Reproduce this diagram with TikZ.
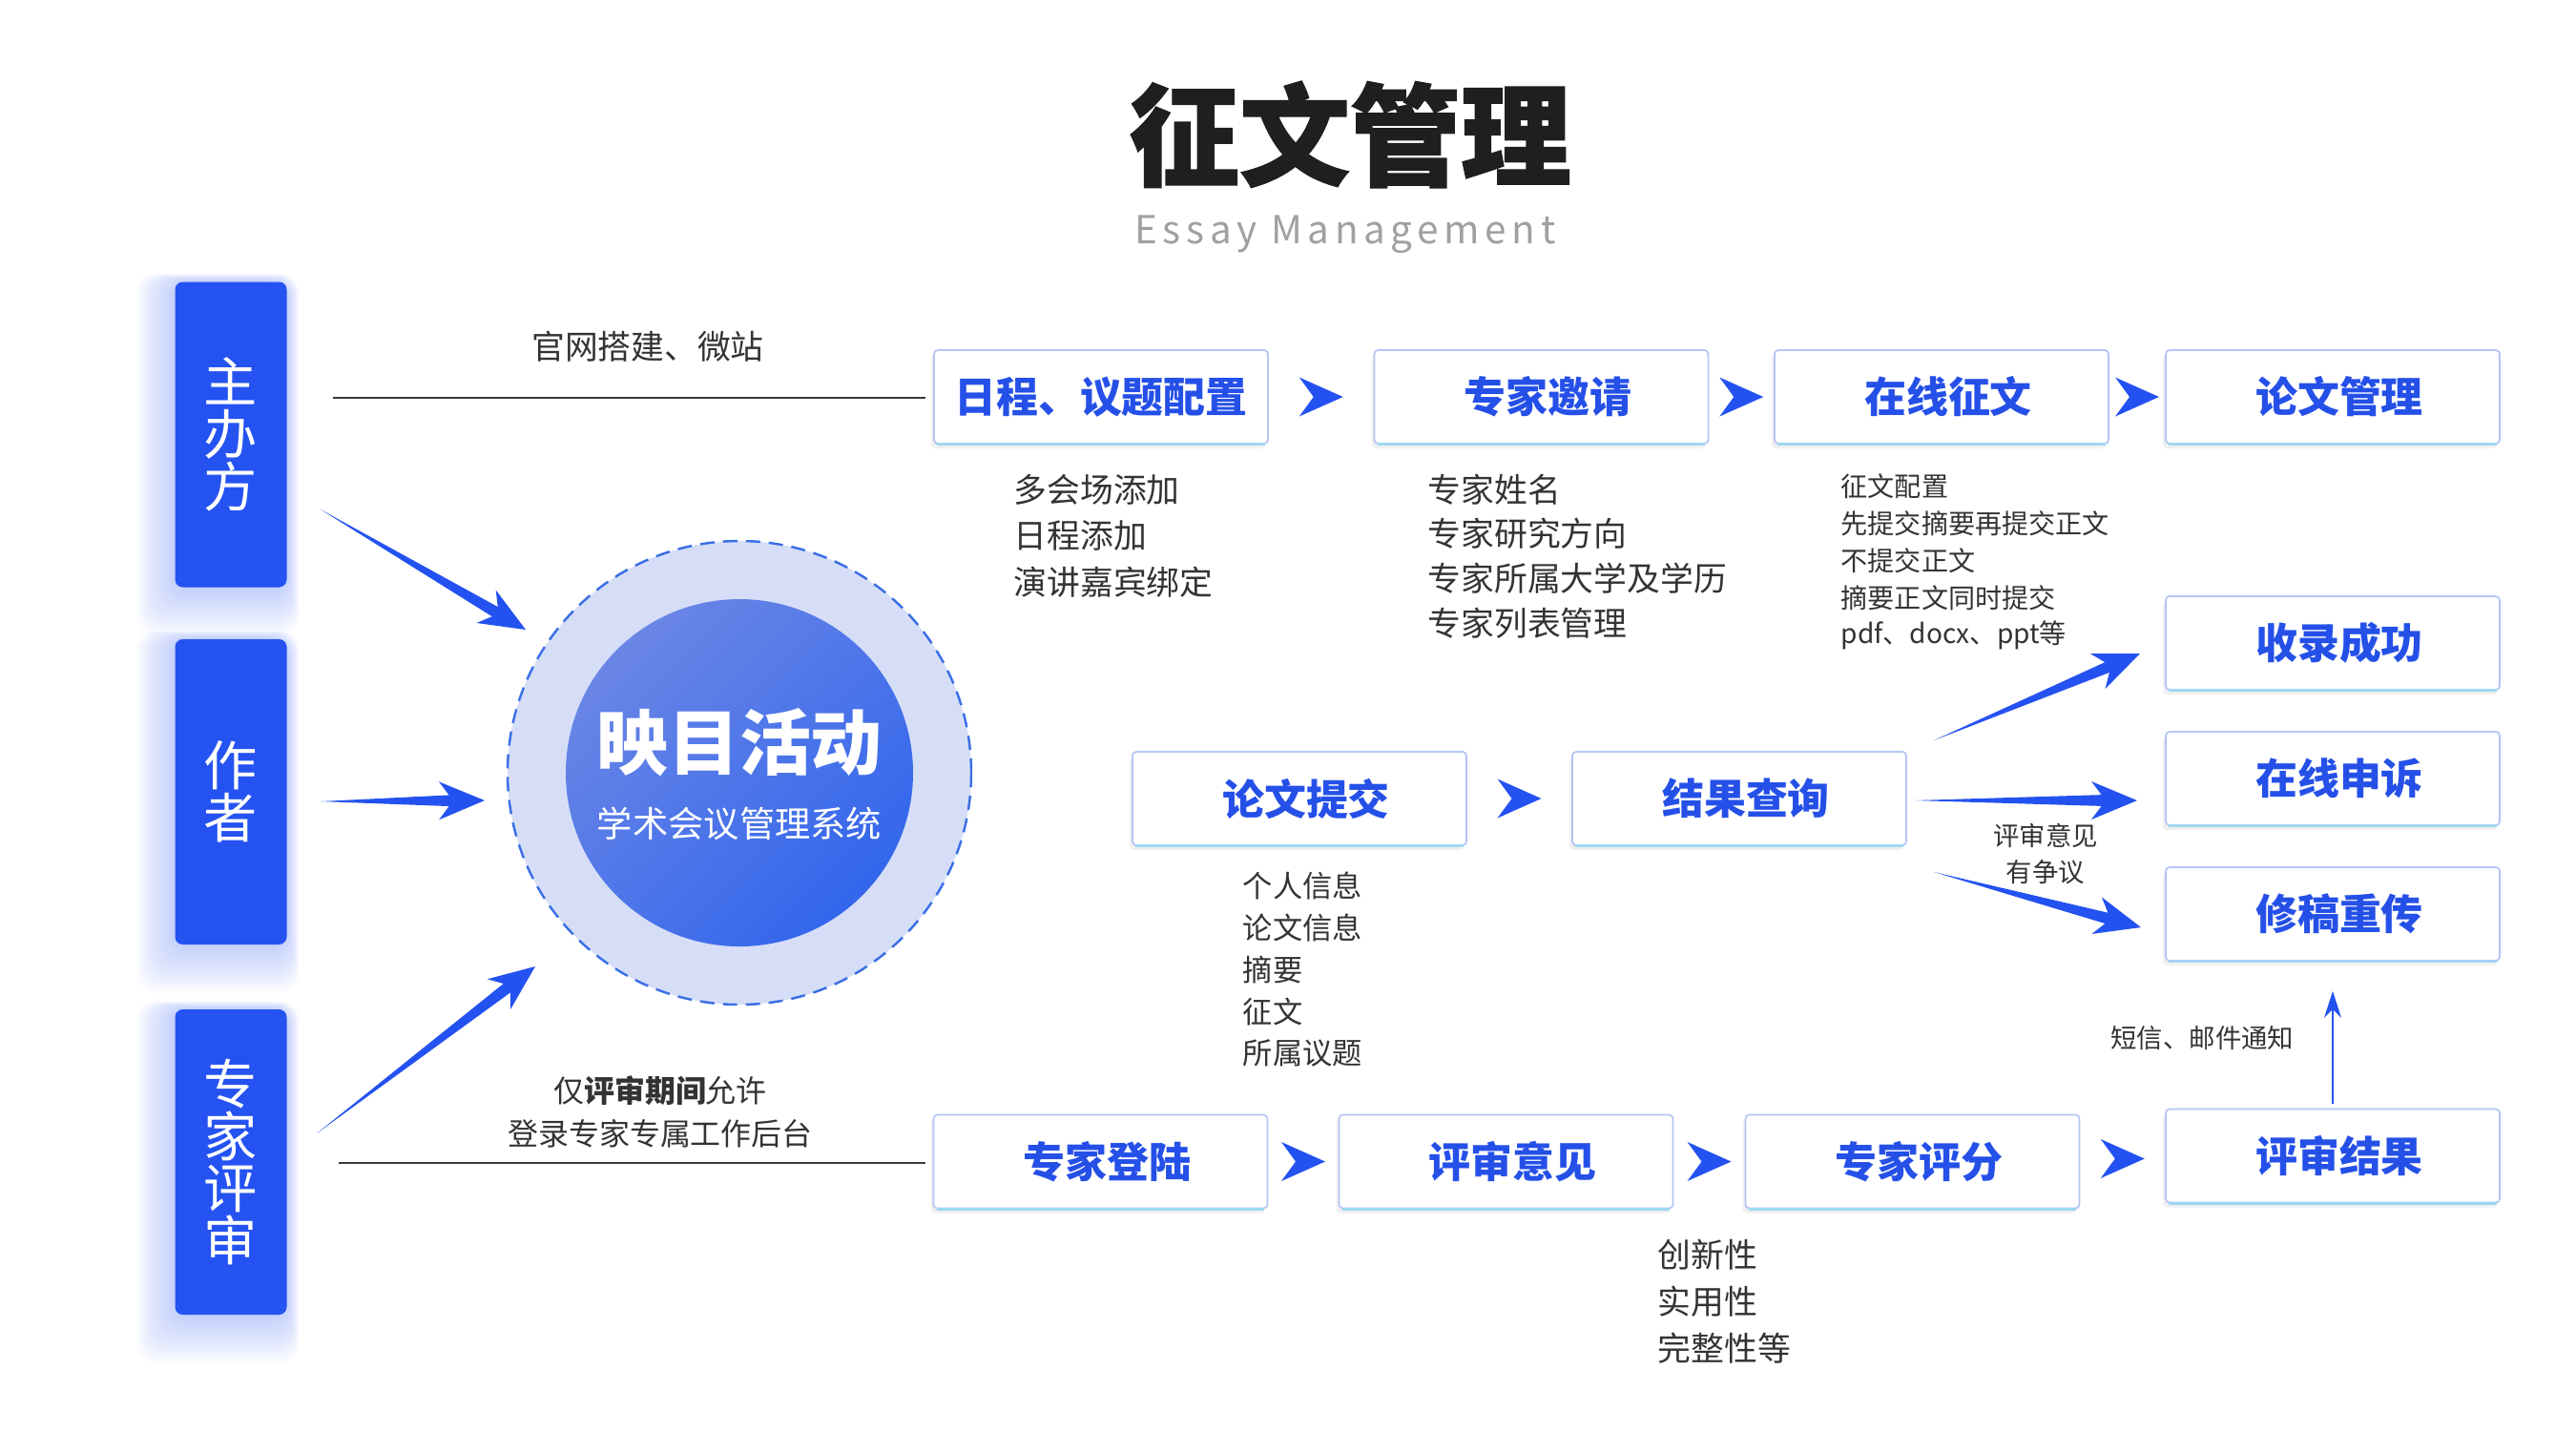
\documentclass[tikz,border=0pt]{standalone}
\usepackage{fontspec}
\setmainfont{Noto Sans CJK SC}
\newfontfamily\heavyfont{Noto Sans CJK SC}[FakeBold=1.2]
\usetikzlibrary{arrows.meta,calc,shadows}

\pgfdeclarelayer{background}
\pgfsetlayers{background,main}

\definecolor{barblue}{HTML}{2553F2}
\definecolor{arrowblue}{HTML}{2452F0}
\definecolor{markblue}{HTML}{2452F0}
\definecolor{cardtext}{HTML}{2550E8}
\definecolor{cardedge}{HTML}{B4C5F5}
\definecolor{cyanedge}{HTML}{9ED8F2}
\definecolor{ringfill}{HTML}{D6DEF7}
\definecolor{ringdash}{HTML}{3B6FE6}
\definecolor{discA}{HTML}{6A86E6}
\definecolor{discB}{HTML}{3366EC}
\definecolor{titleink}{HTML}{1F1F1F}
\definecolor{subink}{HTML}{A0A0A0}
\definecolor{itemink}{HTML}{333333}
\definecolor{guideink}{HTML}{3A3A3A}

% chevron between two step cards
\newcommand\flowmark[2]{%
  \fill[markblue] ($(#1.east)!0.5!(#2.west)$) ++(0.23,0) -- ++(-0.46,0.205)
    -- ++(0.15,-0.205) -- ++(-0.15,-0.205) -- cycle;}

% tapered arrow: thin foot, wide notched head
\newcommand\taperarrow[2]{%
  \coordinate (tipback) at ($(#2)!0.48cm!(#1)$);
  \coordinate (tipnotch) at ($(#2)!0.33cm!(#1)$);
  \fill[arrowblue] (#1) -- ($(tipnotch)!0.06cm!90:(#2)$) -- ($(tipnotch)!0.06cm!-90:(#2)$) -- cycle;
  \fill[arrowblue] (#2) -- ($(tipback)!0.2cm!90:(#2)$) -- (tipnotch)
    -- ($(tipback)!0.2cm!-90:(#2)$) -- cycle;}

\begin{document}
\begin{tikzpicture}[
  rolebar/.style={rounded corners=0.08cm, fill=barblue, text=white, minimum width=1.17cm,
    minimum height=3.2cm, align=center, font=\fontsize{16}{15.6}\selectfont},
  stepcard/.style={rounded corners=0.04cm, draw=cardedge, line width=0.5pt, fill=white,
    minimum width=3.5cm, minimum height=0.98cm, text=cardtext,
    font=\bfseries\fontsize{12.5}{15}\selectfont, execute at begin node=\hspace*{0.14cm},
    drop shadow={shadow xshift=-0.03cm, shadow yshift=-0.05cm, fill=black, opacity=0.06}},
  itemtext/.style={inner sep=0pt, text=itemink, font=\fontsize{9.9}{12}\selectfont},
  guide/.style={draw=guideink, line width=0.6pt},
  notetext/.style={inner sep=0pt, text=itemink, font=\fontsize{7.8}{10.8}\selectfont, align=center},
]
  \useasboundingbox (0,0) rectangle (27,-15);

  % ---------- title ----------
  \node[text=titleink, font=\heavyfont\bfseries\fontsize{33}{40}\selectfont] (title) at (14.15,-1.41) {征文管理};
  \node[text=subink, font=\fontsize{11.5}{14}\selectfont\addfontfeature{LetterSpace=14}] (subtitle) at (14.10,-2.46) {Essay Management};

  % ---------- roles ----------
  \node[rolebar] (host) at (2.42,-4.555) {主\\办\\方};
  \node[rolebar] (author) at (2.42,-8.30) {作\\者};
  \node[rolebar] (expert) at (2.42,-12.18) {专\\家\\评\\审};

  \begin{pgfonlayer}{background}
    \foreach \role in {host,author,expert}
      \foreach \g in {1,...,20}
        \fill[barblue, opacity=0.014, rounded corners=0.2cm]
          ([shift={(-\g*0.02cm,-\g*0.025cm)}]\role.south west) rectangle
          ([shift={(\g*0.006cm,\g*0.004cm)}]\role.north east);
  \end{pgfonlayer}

  % ---------- hub ----------
  \node[circle, minimum size=4.86cm, fill=ringfill, draw=ringdash, line width=0.7pt,
    dash pattern=on 0.15cm off 0.09cm] (hub) at (7.75,-8.10) {};
  \node[circle, minimum size=3.64cm, top color=discA, bottom color=discB, shading angle=45] (disc) at (hub) {};
  \node[text=white, font=\bfseries\fontsize{21.3}{24}\selectfont] (brand) at (7.75,-7.78) {映目活动};
  \node[text=white, font=\fontsize{10.6}{12}\selectfont] (brandsub) at (7.75,-8.63) {学术会议管理系统};

  \coordinate (hostfoot) at (3.36,-5.34);
  \coordinate (hosttip) at (5.51,-6.60);
  \coordinate (authorfoot) at (3.36,-8.40);
  \coordinate (authortip) at (5.08,-8.39);
  \coordinate (expertfoot) at (3.32,-11.88);
  \coordinate (experttip) at (5.61,-10.13);
  \taperarrow{hostfoot}{hosttip}
  \taperarrow{authorfoot}{authortip}
  \taperarrow{expertfoot}{experttip}

  % ---------- step cards ----------
  \node[stepcard, execute at begin node=\hspace*{-0.14cm}] (sched) at (11.54,-4.16) {日程、议题配置};
  \node[stepcard] (invite) at (16.155,-4.16) {专家邀请};
  \node[stepcard] (callfor) at (20.35,-4.16) {在线征文};
  \node[stepcard] (papers) at (24.45,-4.16) {论文管理};
  \node[stepcard] (submit) at (13.62,-8.37) {论文提交};
  \node[stepcard] (query) at (18.23,-8.37) {结果查询};
  \node[stepcard] (accept) at (24.45,-6.74) {收录成功};
  \node[stepcard] (appeal) at (24.45,-8.16) {在线申诉};
  \node[stepcard] (revise) at (24.45,-9.58) {修稿重传};
  \node[stepcard] (login) at (11.535,-12.175) {专家登陆};
  \node[stepcard] (opinion) at (15.785,-12.175) {评审意见};
  \node[stepcard] (score) at (20.045,-12.175) {专家评分};
  \node[stepcard] (result) at (24.45,-12.115) {评审结果};

  \foreach \card in {sched,invite,callfor,papers,submit,query,accept,appeal,revise,login,opinion,score,result}
    \draw[cyanedge, line width=0.8pt] ([xshift=0.04cm]\card.south west) -- ([xshift=-0.04cm]\card.south east);

  \flowmark{sched}{invite}
  \flowmark{invite}{callfor}
  \flowmark{callfor}{papers}
  \flowmark{submit}{query}
  \flowmark{login}{opinion}
  \flowmark{opinion}{score}
  \flowmark{score}{result}

  % ---------- guide lines ----------
  \coordinate (hostline) at (3.49,-4.17);
  \draw[guide, shorten >=0.08cm] (hostline) -- (hostline -| sched.west);
  \node[itemtext] (sitebuild) at (6.79,-3.63) {官网搭建、微站};

  \coordinate (expertline) at (3.55,-12.19);
  \draw[guide, shorten >=0.08cm] (expertline) -- (expertline -| login.west);
  \node[itemtext, align=center, font=\fontsize{9.1}{12.8}\selectfont] (loginnote) at (6.92,-11.655)
    {仅\textbf{评审期间}允许\\登录专家专属工作后台};

  % ---------- item lists ----------
  \foreach \txt [count=\i] in {多会场添加,日程添加,演讲嘉宾绑定}
    \node[itemtext, anchor=west] (schedi\i) at (10.62,{-5.13-0.485*(\i-1)}) {\txt};
  \foreach \txt [count=\i] in {专家姓名,专家研究方向,专家所属大学及学历,专家列表管理}
    \node[itemtext, anchor=west] (invitei\i) at (14.96,{-5.13-0.467*(\i-1)}) {\txt};
  \foreach \txt [count=\i] in {征文配置,先提交摘要再提交正文,不提交正文,摘要正文同时提交,pdf、docx、ppt等}
    \node[itemtext, anchor=west, font=\fontsize{8}{10}\selectfont] (callfori\i) at (19.29,{-5.10-0.39*(\i-1)}) {\txt};
  \foreach \txt [count=\i] in {个人信息,论文信息,摘要,征文,所属议题}
    \node[itemtext, anchor=west, font=\fontsize{8.9}{11}\selectfont] (submiti\i) at (13.02,{-9.28-0.44*(\i-1)}) {\txt};
  \foreach \txt [count=\i] in {创新性,实用性,完整性等}
    \node[itemtext, anchor=west] (scorei\i) at (17.37,{-13.15-0.49*(\i-1)}) {\txt};

  % ---------- outcomes ----------
  \coordinate (queryup) at (20.27,-7.76);
  \coordinate (accepttip) at (22.43,-6.85);
  \coordinate (querymid) at (20.07,-8.39);
  \coordinate (appealtip) at (22.40,-8.39);
  \coordinate (querylow) at (20.27,-9.14);
  \coordinate (revisetip) at (22.44,-9.72);
  \taperarrow{queryup}{accepttip}
  \taperarrow{querymid}{appealtip}
  \taperarrow{querylow}{revisetip}
  \node[notetext] (dispute) at (21.44,-8.95) {评审意见\\有争议};

  \draw[arrowblue, line width=0.6pt, -{Stealth[length=0.28cm,width=0.18cm]},
    shorten <=0.05cm, shorten >=0.31cm] (result.north) -- (revise.south);
  \node[notetext, anchor=east] (notice) at (24.05,-10.88) {短信、邮件通知};
\end{tikzpicture}
\end{document}
